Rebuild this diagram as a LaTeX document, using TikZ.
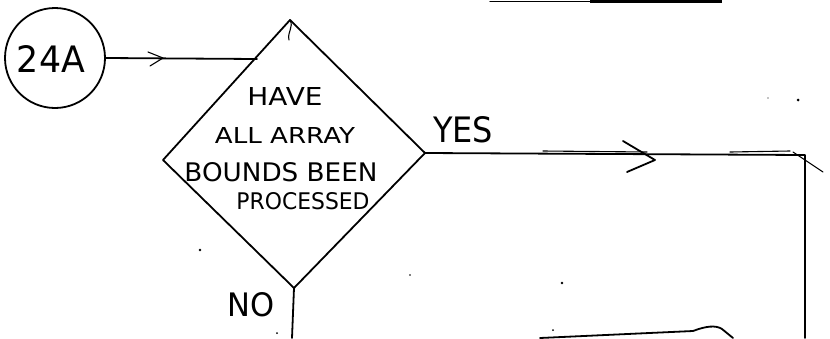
\documentclass[tikz,border=0pt]{standalone}
\usepackage{fontspec}
\setmainfont{DejaVu Sans}
\usepackage{graphicx}
\newcommand\fitlabel[3]{\resizebox{#1pt}{#2pt}{#3}}
\begin{document}
\begin{tikzpicture}[x=1pt,y=-1pt,
  pen/.style={line width=1.8pt, line cap=round, line join=round},
  thinpen/.style={line width=1.1pt, line cap=round, line join=round},
  lbl/.style={inner sep=0pt, anchor=center},
  speck/.style={fill=black}]
\useasboundingbox (0,0) rectangle (830,338);
\fill[white] (0,0) rectangle (830,338);

% connector circle
\node[pen, draw, circle, minimum size=100pt, inner sep=0pt] (c24) at (55,58) {};
\node[lbl] (t24) at (51,58.5) {\fitlabel{68}{27}{24A}};

% decision diamond corners
\coordinate (dT) at (290,20);
\coordinate (dL) at (163,160);
\coordinate (dR) at (425,153);
\coordinate (dB) at (294,288);
\draw[pen] (dT) -- (dR) -- (dB) -- (dL) -- cycle;
\draw[thinpen] (dT) .. controls (294,27) and (287,32) .. (289,40);

% diamond text
\node[lbl] (q1) at (285,96)  {\fitlabel{75}{18}{HAVE}};
\node[lbl] (q2) at (285,135) {\fitlabel{140}{16}{ALL ARRAY}};
\node[lbl] (q3) at (281,172) {\fitlabel{193}{19}{BOUNDS BEEN}};
\node[lbl] (q4) at (303,201) {\fitlabel{133}{17}{PROCESSED}};

% entry connector
\coordinate (dIn) at (257,59);
\draw[pen] (c24.east) -- (dIn);
\coordinate (a1) at (163,58);
\draw[thinpen] (a1) -- ++(-15,-6) (a1) -- ++(-13,8);

% YES branch
\node[lbl] (yes) at (463,130) {\fitlabel{60}{26}{YES}};
\coordinate (cR) at (805,155);
\coordinate (bR) at (805,338);
\draw[pen] (dR) -- (cR) -- (bR);
\draw[thinpen] (543,151) -- (647,152);
\draw[thinpen] (730,152) -- (790,151);
\draw[thinpen] (793,152) -- (823,172);
\coordinate (a2) at (655,160);
\draw[pen] (a2) -- (623,141) (a2) -- (627,172);

% NO branch
\node[lbl] (no) at (251,305) {\fitlabel{47}{24}{NO}};
\coordinate (bB) at (292,338);
\draw[pen] (dB) -- (bB);

% partial lines at the edges
\draw[thinpen] (490,1.5) -- (590,1.5);
\draw[line width=3pt] (590,1.5) -- (722,1.5);
\coordinate (e1) at (540,338);
\coordinate (e2) at (733,338);
\draw[pen] (e1) -- (693,331) .. controls (706,326) and (716,325) .. (722,329) -- (e2);

% specks
\fill[speck] (798,100) circle (1.5);
\fill[speck] (200,250) circle (1.3);
\fill[speck] (562,283) circle (1.3);
\fill[speck] (410,275) circle (0.8);
\fill[speck] (553,330) circle (1);
\fill[speck] (277,333) circle (1);
\fill[speck] (768,98) circle (0.7);
\end{tikzpicture}
\end{document}
